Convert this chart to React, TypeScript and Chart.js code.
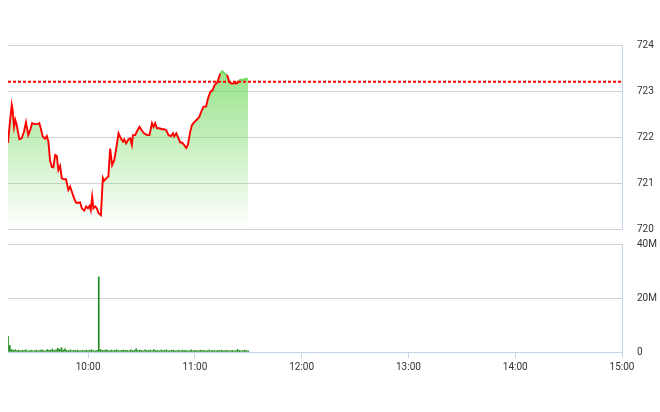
import React, { useEffect, useRef } from 'react';
import { Chart, registerables } from 'chart.js';
Chart.register(...registerables);

// ---- data ----
const sessionStart = '09:15';
const sessionEnd = '15:00';
const xTickLabels = ['10:00', '11:00', '12:00', '13:00', '14:00', '15:00'];
const priceTicks = [720, 721, 722, 723, 724];
const volumeTicks = [0, 20, 40]; // millions
const referencePrice = 723.2;

// minutes after session start (09:15)
const priceMinutes = [
  0, 1.1, 2.1, 2.6, 3.4, 4.1, 4.9, 6.4, 7.7, 9.0, 10.1, 11.4, 12.8, 13.5, 15.2, 16.5, 17.6, 18.4, 19.5,
  20.8, 21.8, 22.7, 23.6, 24.6, 25.5, 26.5, 27.4, 28.3, 29.3, 30.2, 31.5, 32.6, 33.9, 34.9, 35.9, 37.1,
  38.3, 39.6, 40.5, 41.5, 42.8, 43.9, 44.9, 45.8, 46.5, 47.3, 48.0, 49.0, 49.9, 50.8, 52.2, 53.3, 54.0,
  55.2, 56.4, 57.4, 58.5, 59.7, 60.8, 62.1, 63.4, 64.6, 65.3, 66.4, 67.7, 68.7, 69.6, 70.2, 71.5, 72.4,
  73.9, 75.2, 76.5, 78.1, 79.5, 80.9, 81.8, 82.7, 83.7, 85.2, 86.5, 87.8, 88.9, 90.2, 91.6, 92.7, 93.4,
  94.6, 95.8, 96.8, 97.8, 98.7, 100.2, 101.1, 102.4, 103.4, 104.8, 106.2, 107.5, 108.6, 109.9, 111.3,
  112.4, 113.7, 115.0, 116.1, 117.5, 119.3, 120.3, 121.7, 123.1, 124.4, 125.9, 127.4, 128.7, 129.6,
  130.6, 131.5, 132.4, 133.8, 134.9,
];
const prices = [
  721.87, 722.33, 722.7, 722.59, 722.22, 722.37, 722.26, 721.95, 721.97, 722.12, 722.32, 722.04, 722.19,
  722.3, 722.28, 722.28, 722.3, 722.19, 722.01, 721.96, 722.02, 721.9, 721.5, 721.35, 721.34, 721.61,
  721.59, 721.28, 721.37, 721.1, 721.08, 721.08, 720.85, 720.92, 720.81, 720.67, 720.57, 720.57, 720.58,
  720.45, 720.4, 720.49, 720.45, 720.5, 720.41, 720.7, 720.45, 720.49, 720.45, 720.35, 720.3, 721.11,
  721.05, 721.1, 721.14, 721.75, 721.39, 721.5, 721.75, 722.08, 721.97, 721.9, 721.95, 721.86, 721.95,
  721.97, 721.83, 722.04, 722.04, 722.12, 722.22, 722.14, 722.08, 722.04, 722.04, 722.3, 722.22, 722.3,
  722.19, 722.19, 722.17, 722.17, 722.15, 722.04, 722.02, 722.08, 722.01, 722.08, 721.97, 721.88, 721.88,
  721.84, 721.76, 721.83, 722.12, 722.26, 722.33, 722.38, 722.44, 722.55, 722.66, 722.66, 722.84, 722.98,
  723.02, 723.13, 723.18, 723.38, 723.43, 723.38, 723.35, 723.19, 723.16, 723.17, 723.17, 723.22, 723.25,
  723.23, 723.25, 723.27, 723.25,
];

// one bar per minute from 09:15, in millions of shares
const volumeM = [
  5.8, 2.4, 1.0, 0.6, 0.8, 0.5, 0.7, 0.4, 0.6, 0.5, 0.8, 0.4, 0.5, 0.6, 0.4, 0.5, 0.7, 0.4, 0.6, 0.8,
  0.5, 0.4, 0.9, 0.6, 0.7, 1.1, 0.5, 0.8, 1.4, 1.0, 1.6, 0.7, 1.2, 0.6, 0.5, 0.8, 0.4, 0.6, 0.5, 0.7,
  0.4, 0.5, 0.6, 0.4, 0.7, 0.5, 0.6, 0.8, 0.5, 0.4, 0.6, 27.8, 0.9, 0.6, 0.5, 0.8, 0.6, 0.4, 0.7, 0.5,
  0.6, 0.8, 0.5, 0.4, 0.6, 0.7, 0.5, 0.6, 0.4, 0.8, 0.5, 0.6, 1.2, 0.5, 0.7, 0.6, 0.4, 0.8, 0.5, 0.6,
  0.7, 0.4, 0.9, 0.5, 0.6, 0.4, 0.7, 0.5, 0.6, 0.8, 0.4, 0.5, 0.6, 0.7, 0.4, 0.5, 0.6, 0.4, 0.7, 0.5,
  0.6, 0.4, 0.5, 0.8, 0.4, 0.6, 0.5, 0.4, 0.7, 0.5, 0.6, 0.4, 0.5, 0.7, 0.4, 0.6, 0.5, 0.4, 0.6, 0.5,
  0.7, 0.4, 0.5, 0.6, 0.4, 0.5, 0.6, 0.4, 0.5, 0.9, 0.6, 0.4, 0.5, 0.7, 0.5, 0.4,
];

// ---- helpers ----
const toMin = (s: string) => {
  const [h, m] = s.split(':').map(Number);
  return h * 60 + m;
};
const X_MIN = toMin(sessionStart);
const X_MAX = toMin(sessionEnd);
const tickValues = xTickLabels.map(toMin);

const FONT = { family: 'Roboto, "Liberation Sans", Arial, sans-serif', size: 10 };
const TEXT = '#333333';
const GRID = '#d3d3d3';
const AXIS = '#c5d3e6';
const RED = '#ff0000';
const GREEN_LINE = '#72d860';

const rightAxis = (ticksArr: number[], fmt: (v: number) => string) => ({
  position: 'right' as const,
  min: ticksArr[0],
  max: ticksArr[ticksArr.length - 1],
  afterBuildTicks: (axis: any) => {
    axis.ticks = ticksArr.map((v) => ({ value: v }));
  },
  afterFit: (axis: any) => {
    axis.width = 38;
  },
  grid: { color: GRID, drawTicks: true, tickLength: 15, tickColor: 'rgba(0,0,0,0)', lineWidth: 1 },
  border: { display: true, color: AXIS },
  ticks: { padding: 0, color: TEXT, font: FONT, callback: (v: any) => fmt(v) },
});

export default function App() {
  const topRef = useRef<HTMLCanvasElement>(null);
  const botRef = useRef<HTMLCanvasElement>(null);

  useEffect(() => {
    const priceData = priceMinutes.map((m, i) => ({ x: X_MIN + m, y: prices[i] }));
    const refData = [
      { x: X_MIN, y: referencePrice },
      { x: X_MAX, y: referencePrice },
    ];
    const top = new Chart(topRef.current!, {
      type: 'line',
      data: {
        datasets: [
          {
            data: refData,
            borderColor: RED,
            borderWidth: 2,
            borderDash: [3, 2],
            pointRadius: 0,
            fill: false,
            order: 0,
          },
          {
            data: priceData,
            borderColor: RED,
            borderWidth: 1.9,
            pointRadius: 0,
            tension: 0,
            fill: false,
            order: 1,
            segment: {
              borderColor: (ctx: any) =>
                ctx.p0.parsed.y >= referencePrice && ctx.p1.parsed.y >= referencePrice ? GREEN_LINE : RED,
            },
          },
          {
            data: priceData,
            borderWidth: 0,
            borderColor: 'rgba(0,0,0,0)',
            pointRadius: 0,
            tension: 0,
            fill: 'start',
            order: 2,
            backgroundColor: (ctx: any) => {
              const { chart } = ctx;
              const area = chart.chartArea;
              if (!area) return 'rgba(110,215,90,0.4)';
              const g = chart.ctx.createLinearGradient(0, area.top, 0, area.bottom);
              g.addColorStop(0, 'rgba(105,215,85,0.8)');
              g.addColorStop(1, 'rgba(105,215,85,0.0)');
              return g;
            },
          },
        ],
      },
      options: {
        responsive: false,
        animation: false,
        layout: { padding: { left: 8, top: 45, right: 0, bottom: 11 } },
        plugins: { legend: { display: false }, tooltip: { enabled: false } },
        scales: {
          x: { type: 'linear', min: X_MIN, max: X_MAX, display: false },
          y: rightAxis(priceTicks, (v) => String(v)),
        },
      },
    });

    const volData = volumeM.map((v, i) => ({ x: X_MIN + i, y: v }));
    const bot = new Chart(botRef.current!, {
      type: 'bar',
      data: {
        datasets: [
          {
            data: volData,
            backgroundColor: '#1e8c1e',
            barThickness: 1,
            borderWidth: 0,
          },
        ],
      },
      options: {
        responsive: false,
        animation: false,
        layout: { padding: { left: 8, top: 14, right: 0, bottom: 30 } },
        plugins: { legend: { display: false }, tooltip: { enabled: false } },
        scales: {
          x: {
            type: 'linear',
            min: X_MIN,
            max: X_MAX,
            offset: false,
            afterBuildTicks: (axis: any) => {
              axis.ticks = tickValues.map((v) => ({ value: v }));
            },
            afterFit: (axis: any) => {
              axis.height = 30;
            },
            grid: { drawOnChartArea: false, drawTicks: true, tickLength: 6, color: AXIS, offset: false },
            border: { display: true, color: AXIS },
            ticks: {
              padding: 3,
              color: TEXT,
              font: FONT,
              maxRotation: 0,
              autoSkip: false,
              callback: (v: any) => {
                const i = tickValues.indexOf(v);
                return i >= 0 ? xTickLabels[i] : '';
              },
            },
          },
          y: rightAxis(volumeTicks, (v) => (v === 0 ? '0' : `${v}M`)),
        },
      },
    });

    return () => {
      top.destroy();
      bot.destroy();
    };
  }, []);

  return (
    <div style={{ position: 'fixed', left: 0, top: 0, width: 660, height: 412, background: '#fff' }}>
      <canvas ref={topRef} width={660} height={240} style={{ position: 'absolute', left: 0, top: 0 }} />
      <canvas ref={botRef} width={660} height={182} style={{ position: 'absolute', left: 0, top: 230 }} />
    </div>
  );
}
